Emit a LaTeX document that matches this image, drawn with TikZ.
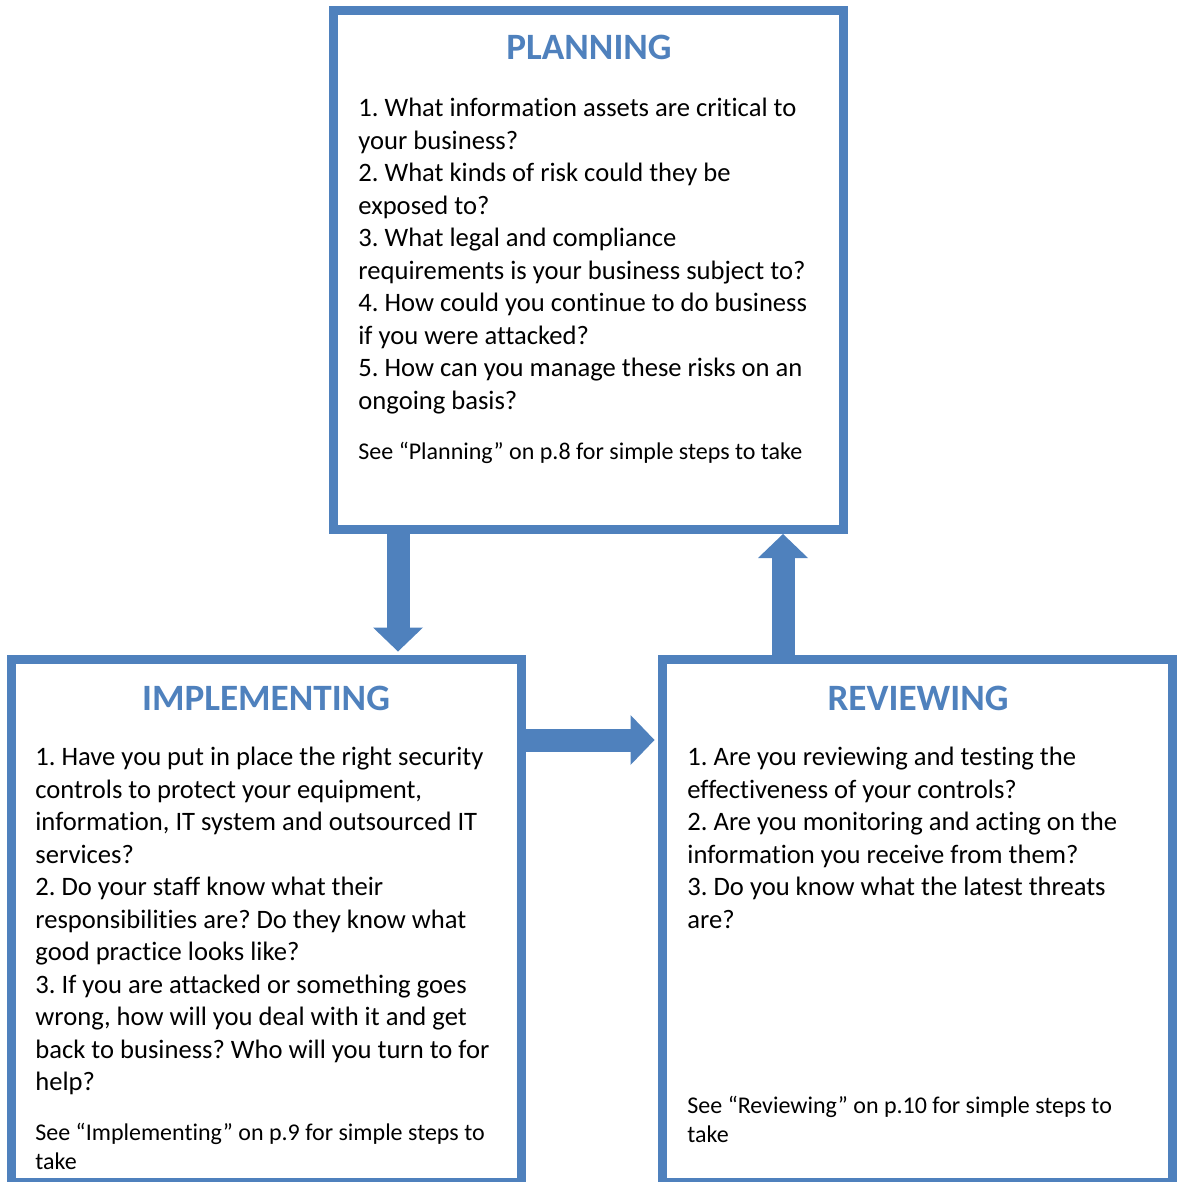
\documentclass[tikz,border=0pt]{standalone}
\usepackage{fontspec}
\setmainfont{Carlito}[Ligatures={NoCommon}]
\frenchspacing
\usetikzlibrary{calc,positioning,arrows.meta}
\definecolor{phaseblue}{HTML}{4F81BD}
\tikzstyle{phase} = [rectangle, draw=phaseblue, line width=4.5pt,
    minimum width=255pt, inner sep=0pt, outer sep=0pt]
\tikzstyle{line} = [draw=phaseblue, line width=11.5pt, shorten >=4pt,
    -{Triangle[length=12pt, width=25pt, line width=0pt]}]
\tikzset{
  heading/.style={
    text=phaseblue,
    font=\fontsize{18.6}{22}\selectfont\bfseries,
    inner sep=0pt,
    anchor=base},
  % multi-line nodes: anchored at the baseline of their last line
  question/.style={
    anchor=base west,
    align=left,
    inner sep=0pt,
    font=\fontsize{13.3}{16.25}\selectfont},
  pointer/.style={
    anchor=base west,
    align=left,
    inner sep=0pt,
    font=\fontsize{12}{14.5}\selectfont},
}
\begin{document}
\begin{tikzpicture}[x=0.5pt, y=-0.5pt]
    \useasboundingbox (0,0) rectangle (1181,1182);
    % Place boxes
    \node [phase, minimum height=259.5pt] (planning) at (588.5,270) {};
    \node [phase, minimum height=261.5pt] (implementing) at (266.5,921) {};
    \node [phase, minimum height=261.5pt] (reviewing) at (917.5,921) {};
    % Headings
    \node [heading] (planTitle) at (589,60) {PLANNING};
    \node [heading] (implTitle) at (266,710) {IMPLEMENTING};
    \node [heading] (reviewTitle) at (918,710) {REVIEWING};
    % Questions
    \node [question] (planQuestions) at (358,409.2) {1. What information assets are critical to\\
        your business?\\
        2. What kinds of risk could they be\\
        exposed to?\\
        3. What legal and compliance\\
        requirements is your business subject to?\\
        4. How could you continue to do business\\
        if you were attacked?\\
        5. How can you manage these risks on an\\
        ongoing basis?};
    \node [question] (implQuestions) at (35,1090.7) {1. Have you put in place the right security\\
        controls to protect your equipment,\\
        information, IT system and outsourced IT\\
        services?\\
        2. Do your staff know what their\\
        responsibilities are? Do they know what\\
        good practice looks like?\\
        3. If you are attacked or something goes\\
        wrong, how will you deal with it and get\\
        back to business? Who will you turn to for\\
        help?};
    \node [question] (reviewQuestions) at (687,928.2) {1. Are you reviewing and testing the\\
        effectiveness of your controls?\\
        2. Are you monitoring and acting on the\\
        information you receive from them?\\
        3. Do you know what the latest threats\\
        are?};
    % Page pointers
    \node [pointer] (planSee) at (358,459) {See “Planning” on p.8 for simple steps to take};
    \node [pointer] (implSee) at (35,1169) {See “Implementing” on p.9 for simple steps to\\ take};
    \node [pointer] (reviewSee) at (687,1142) {See “Reviewing” on p.10 for simple steps to\\ take};
    % Draw arrows
    \coordinate (downFoot) at ($(planning.south west)+(64.5,0)$);
    \coordinate (upFoot) at ($(reviewing.north west)+(120.5,0)$);
    \coordinate (rightFoot) at ($(implementing.north east)+(0,80.5)$);
    \path [line] (downFoot) -- (downFoot |- implementing.north);
    \path [line, shorten >=2.25pt] (upFoot) -- (upFoot |- planning.south);
    \path [line] (rightFoot) -- (rightFoot -| reviewing.west);
\end{tikzpicture}
\end{document}
